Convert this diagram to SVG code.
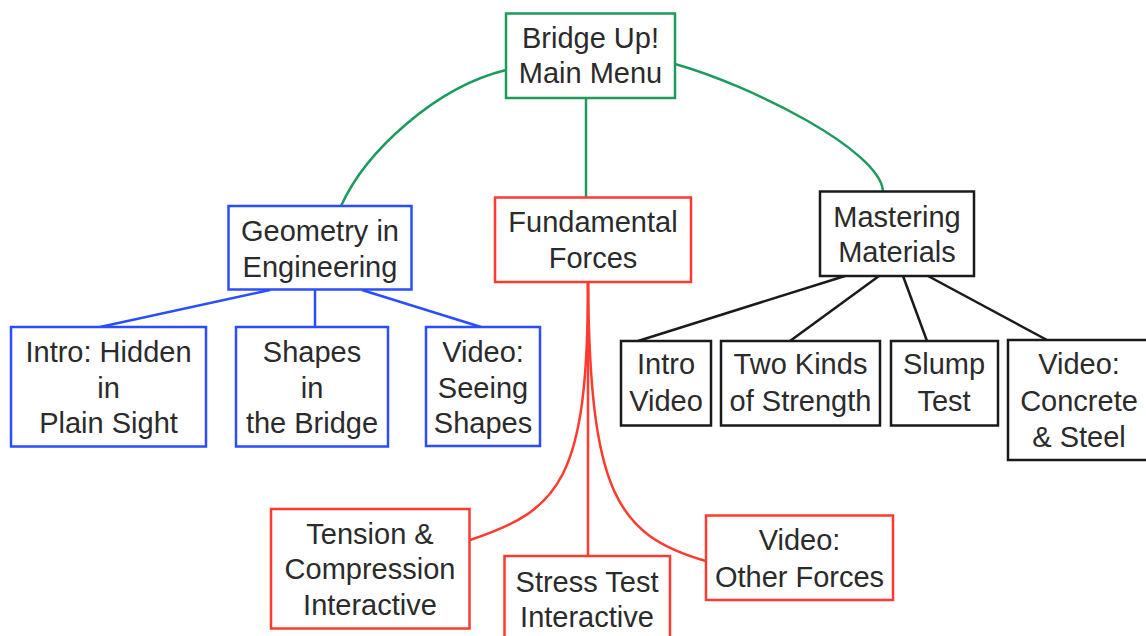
<svg xmlns="http://www.w3.org/2000/svg" width="1146" height="636" viewBox="0 0 1146 636">
<style>
text{font-family:"Liberation Sans",Arial,Helvetica,sans-serif;font-size:29px;fill:#2b2b2b;text-anchor:middle}
rect{fill:#fff;stroke-width:2.5}
.g{stroke:#1e9a5c}.b{stroke:#2a4dff}.r{stroke:#ff3b2f}.k{stroke:#1a1a1a}
path,line{fill:none;stroke-width:2.5}
</style>
<rect x="0" y="0" width="1146" height="636" fill="#fff" stroke="none"/>
<g id="connectors">
<path class="g" d="M506,70 C436,87 366,151 341,206"/>
<line class="g" x1="586" y1="98" x2="586" y2="197"/>
<path class="g" d="M675,64 C750,85 880,150 883,191"/>
<line class="b" x1="270" y1="290" x2="100" y2="327"/>
<line class="b" x1="315" y1="290" x2="315" y2="327"/>
<line class="b" x1="362" y1="290" x2="481" y2="327"/>
<line class="r" x1="588" y1="282" x2="588" y2="556"/>
<path class="r" d="M588,282 C588,480 560,510 470,540"/>
<path class="r" d="M588,282 C590,490 615,535 706,561"/>
<line class="k" x1="845" y1="276" x2="638" y2="341"/>
<line class="k" x1="879" y1="276" x2="790" y2="341"/>
<line class="k" x1="903" y1="276" x2="927" y2="341"/>
<line class="k" x1="928" y1="276" x2="1047" y2="340"/>
</g>
<g id="main"><rect class="g" x="506" y="13.5" width="169" height="84.5"/><text x="590.5" y="48">Bridge Up!</text><text x="590.5" y="83">Main Menu</text></g>
<g id="geometry"><rect class="b" x="228.5" y="206" width="183" height="83.5"/><text x="320" y="241">Geometry in</text><text x="320" y="277">Engineering</text></g>
<g id="forces"><rect class="r" x="495" y="197.5" width="196" height="84.5"/><text x="593" y="232">Fundamental</text><text x="593" y="268">Forces</text></g>
<g id="materials"><rect class="k" x="820" y="191.5" width="154" height="84.5"/><text x="897" y="227">Mastering</text><text x="897" y="262">Materials</text></g>
<g id="intro-hidden"><rect class="b" x="11" y="327" width="195" height="119.5"/><text x="108.5" y="362">Intro: Hidden</text><text x="108.5" y="398">in</text><text x="108.5" y="433">Plain Sight</text></g>
<g id="shapes-bridge"><rect class="b" x="236" y="327" width="152" height="119.5"/><text x="312" y="362">Shapes</text><text x="312" y="398">in</text><text x="312" y="433">the Bridge</text></g>
<g id="seeing-shapes"><rect class="b" x="426" y="327" width="114" height="119"/><text x="483" y="362">Video:</text><text x="483" y="398">Seeing</text><text x="483" y="433">Shapes</text></g>
<g id="intro-video"><rect class="k" x="621" y="341" width="90" height="84.5"/><text x="666" y="374">Intro</text><text x="666" y="410.5">Video</text></g>
<g id="two-kinds"><rect class="k" x="721" y="341" width="159" height="84.5"/><text x="800.5" y="374">Two Kinds</text><text x="800.5" y="410.5">of Strength</text></g>
<g id="slump"><rect class="k" x="891" y="341" width="107" height="84.5"/><text x="944" y="374">Slump</text><text x="944" y="410.5">Test</text></g>
<g id="concrete-steel"><rect class="k" x="1008" y="340" width="142" height="120"/><text x="1079" y="374">Video:</text><text x="1079" y="411">Concrete</text><text x="1079" y="446.5">&amp; Steel</text></g>
<g id="tension"><rect class="r" x="271" y="509" width="198.5" height="119.5"/><text x="370" y="543.5">Tension &amp;</text><text x="370" y="578.5">Compression</text><text x="370" y="615">Interactive</text></g>
<g id="stress"><rect class="r" x="504.5" y="556" width="165.5" height="90"/><text x="587" y="592">Stress Test</text><text x="587" y="627">Interactive</text></g>
<g id="other-forces"><rect class="r" x="706" y="515.5" width="187" height="84.5"/><text x="799.5" y="550">Video:</text><text x="799.5" y="587">Other Forces</text></g>
</svg>
